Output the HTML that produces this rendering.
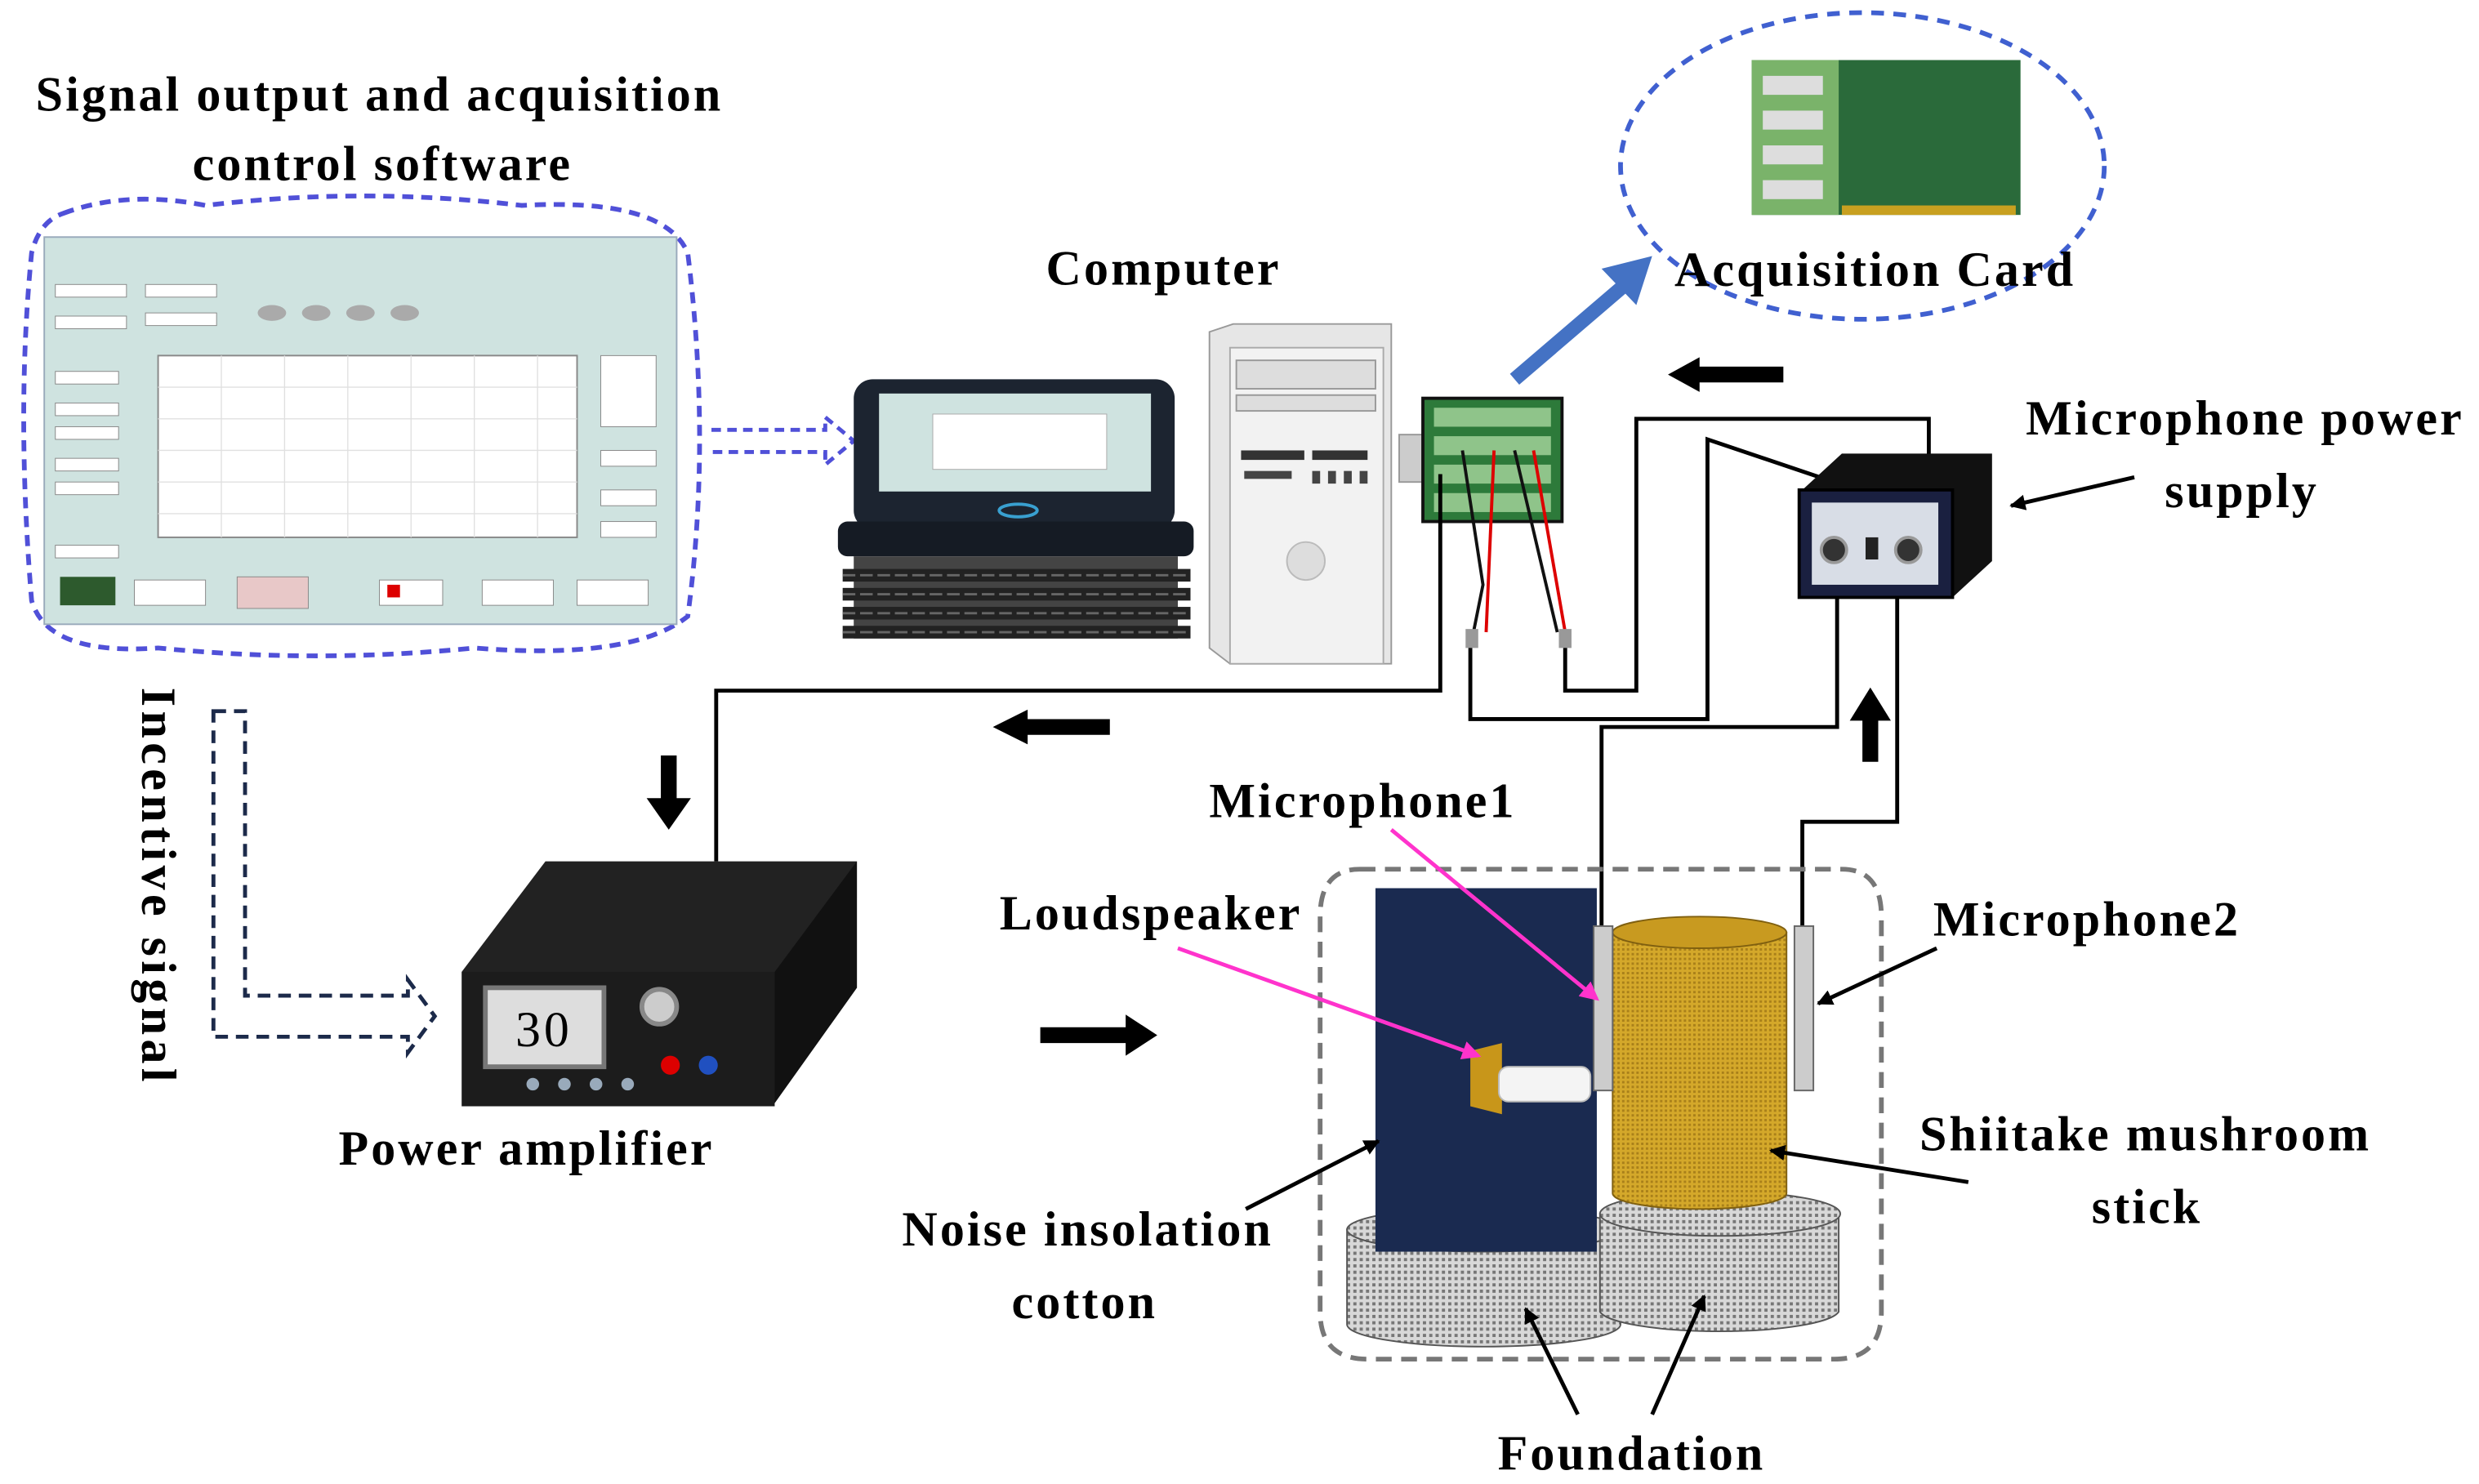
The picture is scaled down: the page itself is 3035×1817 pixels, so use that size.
<!DOCTYPE html>
<html><head><meta charset="utf-8">
<style>
html,body{margin:0;padding:0;background:#fff;}
svg{display:block;}
text{font-family:"Liberation Serif",serif;font-weight:bold;fill:#000;letter-spacing:1.6px;}
</style></head>
<body>
<svg width="3035" height="1817" viewBox="0 0 1568 939" preserveAspectRatio="none" xmlns="http://www.w3.org/2000/svg">
<defs>
<marker id="ah" markerWidth="10" markerHeight="10" refX="9" refY="5" orient="auto" markerUnits="userSpaceOnUse"><path d="M0,0 L10,5 L0,10 z" fill="#000"/></marker>
<marker id="ahp" markerWidth="12" markerHeight="12" refX="10" refY="6" orient="auto" markerUnits="userSpaceOnUse"><path d="M0,0 L12,6 L0,12 z" fill="#ff33cc"/></marker>
<pattern id="mesh" width="4" height="4" patternUnits="userSpaceOnUse"><rect width="4" height="4" fill="#d8d8d8"/><rect width="2" height="2" fill="#777"/></pattern>
<pattern id="ymesh" width="3" height="3" patternUnits="userSpaceOnUse"><rect width="3" height="3" fill="#d4a82a"/><rect width="1.5" height="1.5" fill="#a9801a"/></pattern>
</defs>

<text x="240" y="70" font-size="31" text-anchor="middle">Signal output and acquisition</text>
<text x="242" y="114" font-size="31" text-anchor="middle">control software</text>

<path d="M40,135 Q80,120 130,130 Q230,118 330,130 Q420,125 435,160 Q450,280 435,390 Q400,418 300,410 Q200,420 100,410 Q30,415 20,380 Q10,260 20,160 Q25,140 40,135 z" fill="none" stroke="#5050d8" stroke-width="3" stroke-dasharray="7,5"/>
<rect x="28" y="150" width="400" height="245" fill="#cfe3e0" stroke="#9ab" />
<rect x="100" y="225" width="265" height="115" fill="#fff" stroke="#888"/>
<g stroke="#e0e0e0" stroke-width="0.7">
<line x1="100" y1="245" x2="365" y2="245"/><line x1="100" y1="265" x2="365" y2="265"/><line x1="100" y1="285" x2="365" y2="285"/><line x1="100" y1="305" x2="365" y2="305"/><line x1="100" y1="325" x2="365" y2="325"/>
<line x1="140" y1="225" x2="140" y2="340"/><line x1="180" y1="225" x2="180" y2="340"/><line x1="220" y1="225" x2="220" y2="340"/><line x1="260" y1="225" x2="260" y2="340"/><line x1="300" y1="225" x2="300" y2="340"/><line x1="340" y1="225" x2="340" y2="340"/>
</g>
<g fill="#fff" stroke="#888" stroke-width="0.5">
<rect x="35" y="180" width="45" height="8"/><rect x="35" y="200" width="45" height="8"/><rect x="35" y="235" width="40" height="8"/><rect x="35" y="255" width="40" height="8"/><rect x="35" y="270" width="40" height="8"/><rect x="35" y="290" width="40" height="8"/><rect x="35" y="305" width="40" height="8"/><rect x="35" y="345" width="40" height="8"/>
<rect x="92" y="180" width="45" height="8"/><rect x="92" y="198" width="45" height="8"/>
<rect x="380" y="225" width="35" height="45"/><rect x="380" y="285" width="35" height="10"/><rect x="380" y="310" width="35" height="10"/><rect x="380" y="330" width="35" height="10"/>
<rect x="85" y="367" width="45" height="16"/><rect x="150" y="365" width="45" height="20" fill="#e8c8c8"/><rect x="240" y="367" width="40" height="16"/><rect x="305" y="367" width="45" height="16"/><rect x="365" y="367" width="45" height="16"/>
</g>
<rect x="38" y="365" width="35" height="18" fill="#2d5a2d"/>
<rect x="245" y="370" width="8" height="8" fill="#d00"/>
<g fill="#aaa"><ellipse cx="172" cy="198" rx="9" ry="5"/><ellipse cx="200" cy="198" rx="9" ry="5"/><ellipse cx="228" cy="198" rx="9" ry="5"/><ellipse cx="256" cy="198" rx="9" ry="5"/></g>

<path d="M450,272 L522,272 L522,264 L540,279 L522,294 L522,286 L450,286" fill="none" stroke="#5050d8" stroke-width="2.5" stroke-dasharray="6,4"/>

<text x="736" y="180" font-size="31" text-anchor="middle">Computer</text>
<rect x="540" y="240" width="203" height="95" rx="12" fill="#1c2430"/>
<rect x="556" y="249" width="172" height="62" fill="#cfe3e0"/>
<rect x="590" y="262" width="110" height="35" fill="#fff" stroke="#aaa" stroke-width="0.5"/>
<rect x="530" y="330" width="225" height="22" rx="6" fill="#151b24"/>
<ellipse cx="644" cy="323" rx="12" ry="4" fill="none" stroke="#39a0d0" stroke-width="2"/>
<rect x="540" y="352" width="205" height="52" fill="#444"/>
<g fill="#222">
<rect x="533" y="360" width="220" height="8"/><rect x="533" y="372" width="220" height="8"/><rect x="533" y="384" width="220" height="8"/><rect x="533" y="396" width="220" height="8"/>
</g>
<g stroke="#666" stroke-width="1.5"><line x1="533" y1="364" x2="753" y2="364" stroke-dasharray="8,3"/><line x1="533" y1="376" x2="753" y2="376" stroke-dasharray="8,3"/><line x1="533" y1="388" x2="753" y2="388" stroke-dasharray="8,3"/><line x1="533" y1="400" x2="753" y2="400" stroke-dasharray="8,3"/></g>
<path d="M765,210 L780,205 L880,205 L880,420 L778,420 L765,410 z" fill="#e6e6e6" stroke="#999"/>
<rect x="778" y="220" width="97" height="200" fill="#f2f2f2" stroke="#aaa"/>
<rect x="782" y="228" width="88" height="18" fill="#ddd" stroke="#999"/>
<rect x="782" y="250" width="88" height="10" fill="#ddd" stroke="#999"/>
<rect x="785" y="285" width="40" height="6" fill="#333"/><rect x="830" y="285" width="35" height="6" fill="#333"/>
<g fill="#444"><rect x="830" y="298" width="5" height="8"/><rect x="840" y="298" width="5" height="8"/><rect x="850" y="298" width="5" height="8"/><rect x="860" y="298" width="5" height="8"/><rect x="787" y="298" width="30" height="5"/></g>
<circle cx="826" cy="355" r="12" fill="#ddd" stroke="#bbb"/>
<rect x="885" y="275" width="15" height="30" fill="#ccc" stroke="#999"/>
<rect x="900" y="252" width="88" height="78" fill="#2d7a3a" stroke="#111" stroke-width="2"/>
<g fill="#8fc48a"><rect x="907" y="258" width="74" height="12"/><rect x="907" y="276" width="74" height="12"/><rect x="907" y="294" width="74" height="12"/><rect x="907" y="312" width="74" height="12"/></g>

<line x1="958" y1="240" x2="1028" y2="180" stroke="#4472c4" stroke-width="9"/>
<path d="M1045,162 L1035,193 L1013,170 z" fill="#4472c4"/>

<ellipse cx="1178" cy="105" rx="153" ry="97" fill="none" stroke="#4060d0" stroke-width="3" stroke-dasharray="8,6"/>
<rect x="1108" y="38" width="170" height="98" fill="#2a6a3a"/>
<rect x="1108" y="38" width="55" height="98" fill="#7ab36a"/>
<g fill="#ddd"><rect x="1115" y="48" width="38" height="12"/><rect x="1115" y="70" width="38" height="12"/><rect x="1115" y="92" width="38" height="12"/><rect x="1115" y="114" width="38" height="12"/></g>
<rect x="1165" y="130" width="110" height="6" fill="#c8a020"/>
<text x="1186" y="181" font-size="31" text-anchor="middle">Acquisition  Card</text>

<g fill="none" stroke="#000" stroke-width="2.5">
<path d="M1220,290 L1220,265 L1035,265 L1035,437 L990,437 L990,405"/>
<path d="M1160,305 L1080,278 L1080,455 L930,455 L930,405"/>
<path d="M911,300 L911,437 L453,437 L453,545"/>
<path d="M1162,360 L1162,460 L1013,460 L1013,588"/>
<path d="M1200,360 L1200,520 L1140,520 L1140,588"/>
</g>
<g fill="none" stroke-width="2"><path d="M925,285 L938,370 L932,400" stroke="#111"/><path d="M945,285 L940,400" stroke="#d00"/><path d="M958,285 L985,400" stroke="#111"/><path d="M970,285 L990,400" stroke="#d00"/></g>
<rect x="927" y="398" width="8" height="12" fill="#999"/><rect x="986" y="398" width="8" height="12" fill="#999"/>

<path d="M1140,310 L1165,287 L1260,287 L1260,355 L1235,378 z" fill="#111"/>
<rect x="1138" y="310" width="97" height="68" fill="#1a2040" stroke="#000" stroke-width="2"/>
<rect x="1146" y="318" width="80" height="52" fill="#d8dde6"/>
<circle cx="1160" cy="348" r="8" fill="#333" stroke="#999" stroke-width="2"/><circle cx="1207" cy="348" r="8" fill="#333" stroke="#999" stroke-width="2"/>
<rect x="1180" y="340" width="8" height="14" fill="#222"/>
<text x="1420" y="275" font-size="31" text-anchor="middle">Microphone power</text>
<text x="1418" y="321" font-size="31" text-anchor="middle">supply</text>
<line x1="1350" y1="302" x2="1272" y2="320" stroke="#000" stroke-width="2.5" marker-end="url(#ah)"/>

<path d="M1128,232 L1075,232 L1075,226 L1055,237 L1075,248 L1075,242 L1128,242 z" fill="#000"/>
<path d="M702,455 L650,455 L650,449 L628,460 L650,471 L650,465 L702,465 z" fill="#000"/>
<path d="M418,478 L428,478 L428,505 L437,505 L423,525 L409,505 L418,505 z" fill="#000"/>
<path d="M1178,482 L1188,482 L1188,456 L1196,456 L1183,435 L1170,456 L1178,456 z" fill="#000"/>
<path d="M658,650 L712,650 L712,642 L732,655 L712,668 L712,660 L658,660 z" fill="#000"/>

<text transform="translate(90,435) rotate(90)" font-size="31" x="0" y="0" style="letter-spacing:2.8px">Incentive signal</text>
<path d="M135,450 L155,450 L155,630 L258,630 L258,620 L275,643 L258,666 L258,656 L135,656 z" fill="none" stroke="#1c2a4a" stroke-width="2.5" stroke-dasharray="8,5"/>

<path d="M292,615 L345,545 L542,545 L542,625 L490,698 z" fill="#222"/>
<rect x="292" y="615" width="198" height="85" fill="#1c1c1c"/>
<path d="M490,615 L542,545 L542,625 L490,698 z" fill="#111"/>
<rect x="307" y="625" width="75" height="50" fill="#ddd" stroke="#777" stroke-width="3"/>
<text x="344" y="662" font-size="32" text-anchor="middle" style="font-weight:normal;letter-spacing:2px">30</text>
<circle cx="417" cy="637" r="11" fill="#ccc" stroke="#888" stroke-width="3"/>
<circle cx="424" cy="674" r="6" fill="#d00"/><circle cx="448" cy="674" r="6" fill="#2050c0"/>
<g fill="#9ab"><circle cx="337" cy="686" r="4"/><circle cx="357" cy="686" r="4"/><circle cx="377" cy="686" r="4"/><circle cx="397" cy="686" r="4"/></g>
<text x="333" y="737" font-size="31" text-anchor="middle">Power amplifier</text>

<path d="M860,550 L1165,550 Q1190,550 1190,580 L1190,830 Q1190,860 1160,860 L865,860 Q835,860 835,830 L835,580 Q835,550 860,550 z" fill="none" stroke="#777" stroke-width="3" stroke-dasharray="10,6"/>
<path d="M852,778 L852,838 A86,14 0 0 0 1025,838 L1025,778 z" fill="url(#mesh)" stroke="#555"/>
<ellipse cx="938" cy="778" rx="86" ry="14" fill="url(#mesh)" stroke="#555"/>
<path d="M1012,768 L1012,830 A76,14 0 0 0 1163,830 L1163,768 z" fill="url(#mesh)" stroke="#555"/>
<ellipse cx="1088" cy="768" rx="76" ry="14" fill="url(#mesh)" stroke="#555"/>
<rect x="870" y="562" width="140" height="230" fill="#1a2a50"/>
<path d="M1020,590 L1020,755 A55,10 0 0 0 1130,755 L1130,590 z" fill="url(#ymesh)" stroke="#806010"/>
<ellipse cx="1075" cy="590" rx="55" ry="10" fill="#c89a20" stroke="#806010"/>
<path d="M930,665 L950,660 L950,705 L930,700 z" fill="#c8961a"/>
<rect x="948" y="675" width="58" height="22" rx="6" fill="#f4f4f4" stroke="#bbb"/>
<rect x="1008" y="586" width="12" height="104" fill="#ccc" stroke="#666"/>
<rect x="1135" y="586" width="12" height="104" fill="#ccc" stroke="#666"/>

<text x="862" y="517" font-size="31" text-anchor="middle">Microphone1</text>
<line x1="880" y1="525" x2="1010" y2="632" stroke="#ff33cc" stroke-width="2.5" marker-end="url(#ahp)"/>
<text x="728" y="588" font-size="31" text-anchor="middle">Loudspeaker</text>
<line x1="745" y1="600" x2="935" y2="668" stroke="#ff33cc" stroke-width="2.5" marker-end="url(#ahp)"/>
<text x="1320" y="592" font-size="31" text-anchor="middle">Microphone2</text>
<line x1="1225" y1="600" x2="1150" y2="635" stroke="#000" stroke-width="2.5" marker-end="url(#ah)"/>
<text x="1357" y="728" font-size="31" text-anchor="middle">Shiitake mushroom</text>
<text x="1358" y="774" font-size="31" text-anchor="middle">stick</text>
<line x1="1245" y1="748" x2="1120" y2="728" stroke="#000" stroke-width="2.5" marker-end="url(#ah)"/>
<text x="688" y="788" font-size="31" text-anchor="middle">Noise insolation</text>
<text x="686" y="834" font-size="31" text-anchor="middle">cotton</text>
<line x1="788" y1="765" x2="872" y2="722" stroke="#000" stroke-width="2.5" marker-end="url(#ah)"/>
<text x="1032" y="930" font-size="31" text-anchor="middle">Foundation</text>
<line x1="998" y1="895" x2="965" y2="828" stroke="#000" stroke-width="2.5" marker-end="url(#ah)"/>
<line x1="1045" y1="895" x2="1078" y2="820" stroke="#000" stroke-width="2.5" marker-end="url(#ah)"/>
</svg>
</body></html>
